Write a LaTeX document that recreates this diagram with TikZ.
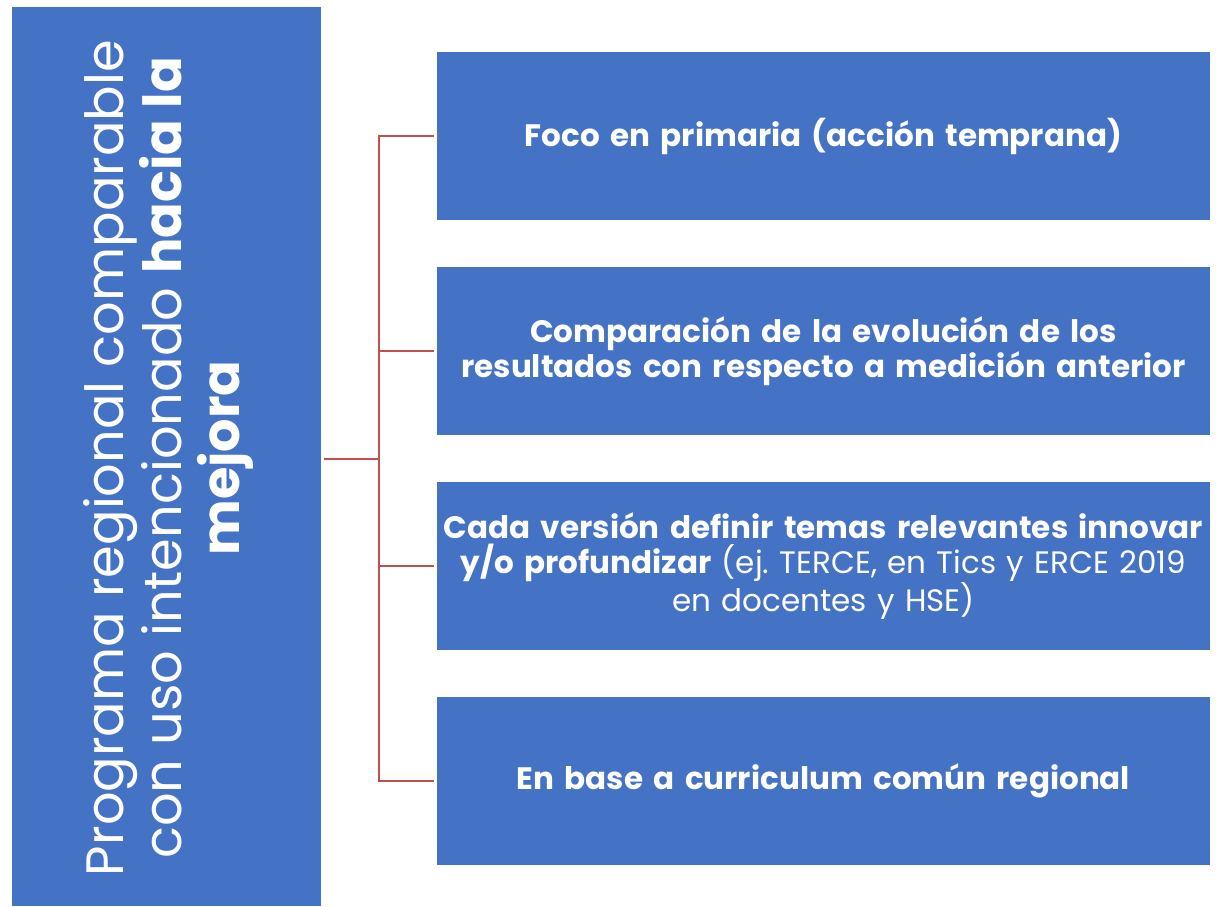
\documentclass[tikz,border=0pt]{standalone}
\usepackage{fontspec}
\setmainfont{Poppins}
\frenchspacing
\definecolor{boxblue}{HTML}{4472C4}
\definecolor{linkred}{HTML}{C0504D}
\begin{document}
\begin{tikzpicture}[x=1pt,y=-1pt,
  bluebox/.style={fill=boxblue, draw=none, inner sep=0pt, text=white},
  itembox/.style={bluebox, minimum width=773pt, minimum height=168pt, text width=773pt, align=center,
     font=\fontsize{31}{35}\selectfont},
  conn/.style={draw=linkred, line width=2.8pt}]
\useasboundingbox (0,0) rectangle (1217,906);
\node[bluebox, minimum width=309pt, minimum height=899pt] (lbox) at (166.5,456.5) {};
\node[text=white, rotate=90, align=center, inner sep=0pt,
      font=\fontsize{52.6}{58}\selectfont] (ltext) at (168,458)
  {Programa regional comparable\\con uso intencionado \textbf{hacia la}\\\textbf{mejora}};
\node[itembox] (b1) at (823.5,136) {\textbf{Foco en primaria (acción temprana)}};
\node[itembox] (b2) at (823.5,351) {\textbf{Comparación de la evolución de los}\\\textbf{resultados con respecto a medición anterior}};
\node[itembox] (b3) at (823.5,566) {\textbf{Cada versión definir temas relevantes innovar}\\\textbf{y/o profundizar} (ej. TERCE, en Tics y ERCE 2019\\en docentes y HSE)};
\node[itembox] (b4) at (823.5,781) {\textbf{En base a curriculum común regional}};
\coordinate (hub) at (379,459);
\coordinate (top) at (379,136);
\coordinate (bot) at (379,781);
\draw[conn] ([xshift=3pt]lbox.east |- hub) -- (hub);
\draw[conn, line cap=rect] (top) -- (bot);
\foreach \b in {b1,b2,b3,b4}
  \draw[conn] (top |- \b.west) -- ([xshift=-3pt]\b.west);
\end{tikzpicture}
\end{document}
